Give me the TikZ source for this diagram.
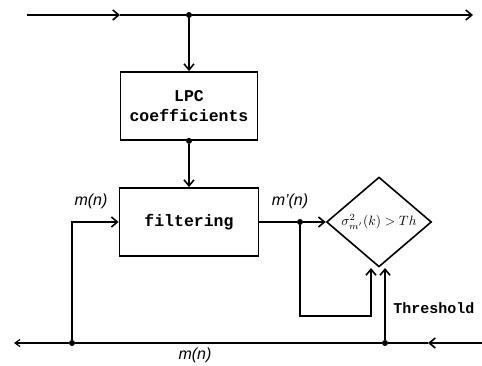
\documentclass[tikz,border=0pt]{standalone}
\usepackage{fontspec}
\setmonofont{Liberation Mono}
\setsansfont{Liberation Sans}
\usetikzlibrary{arrows.meta,shapes.geometric}

\tikzset{
  blockbox/.style={draw, line width=1.8pt, minimum width=137pt, minimum height=68pt, align=center, font=\fontsize{16.5}{20}\selectfont\ttfamily\bfseries},
  decbox/.style={draw, diamond, line width=1.6pt, minimum width=105pt, minimum height=88pt, inner sep=0pt},
  sig/.style={line width=1.6pt},
  tip/.style={-{Straight Barb[length=6pt,width=10pt]}},
  dot/.style={circle, fill, inner sep=0pt, minimum size=6pt},
  lbl/.style={font=\fontsize{16}{18}\selectfont\sffamily\itshape}
}

\begin{document}
\begin{tikzpicture}[x=1pt,y=-1pt]
\useasboundingbox (0,0) rectangle (482,366);

% blocks
\node[blockbox] (lpc) at (189,106) {LPC\\coefficients};
\node[blockbox, minimum width=139pt] (filt) at (189,222) {filtering};
\node[decbox] (dec) at (379,222) {\scalebox{1.35}{$\sigma^{2}_{m'}(k)>Th$}};

% top line
\coordinate (tin) at (27,15);
\coordinate (tmid) at (120,15);
\node[dot] (tj) at (189,15) {};
\coordinate (tout) at (473,15);
\draw[sig, tip] (tin) -- (tmid);
\draw[sig] (tmid) -- (tj);
\draw[sig, tip] (tj) -- (tout);
\draw[sig, tip] (tj) -- (lpc.north);

% lpc to filter
\node[dot] (lj) at (lpc.south) {};
\draw[sig, tip] (lj) -- (filt.north);

% bottom line
\coordinate (bin) at (482,343);
\coordinate (bmid) at (428,343);
\node[dot] (br) at (385,343) {};
\node[dot] (bl) at (72,343) {};
\coordinate (bout) at (14,343);
\draw[sig, tip] (bin) -- (bmid);
\draw[sig] (bmid) -- (br) -- (bl);
\draw[line width=1.2pt, -{Straight Barb[length=5pt,width=7pt]}] (bl) -- (bout);
\node[lbl] (mbot) at (195,355) {m(n)};

% input to filter
\coordinate (fin) at (72,222);
\draw[sig, tip] (bl) -- (fin) -- (filt.west);
\node[lbl] (min) at (91,201) {m(n)};

% filter to decision
\node[dot] (fj) at (300,222) {};
\draw[sig] (filt.east) -- (fj);
\draw[sig, tip] (fj) -- (dec.west);
\node[lbl] (mout) at (290,201) {m'(n)};

% feedback and threshold
\coordinate (fb1) at (300,316);
\coordinate (fb2) at (371,316);
\coordinate (da) at (371,268);
\coordinate (db) at (385,268);
\draw[sig, tip] (fj) -- (fb1) -- (fb2) -- (da);
\draw[sig, tip] (br) -- (db);
\node[font=\fontsize{15}{17}\selectfont\ttfamily\bfseries] (thr) at (434,308) {Threshold};
\end{tikzpicture}
\end{document}
